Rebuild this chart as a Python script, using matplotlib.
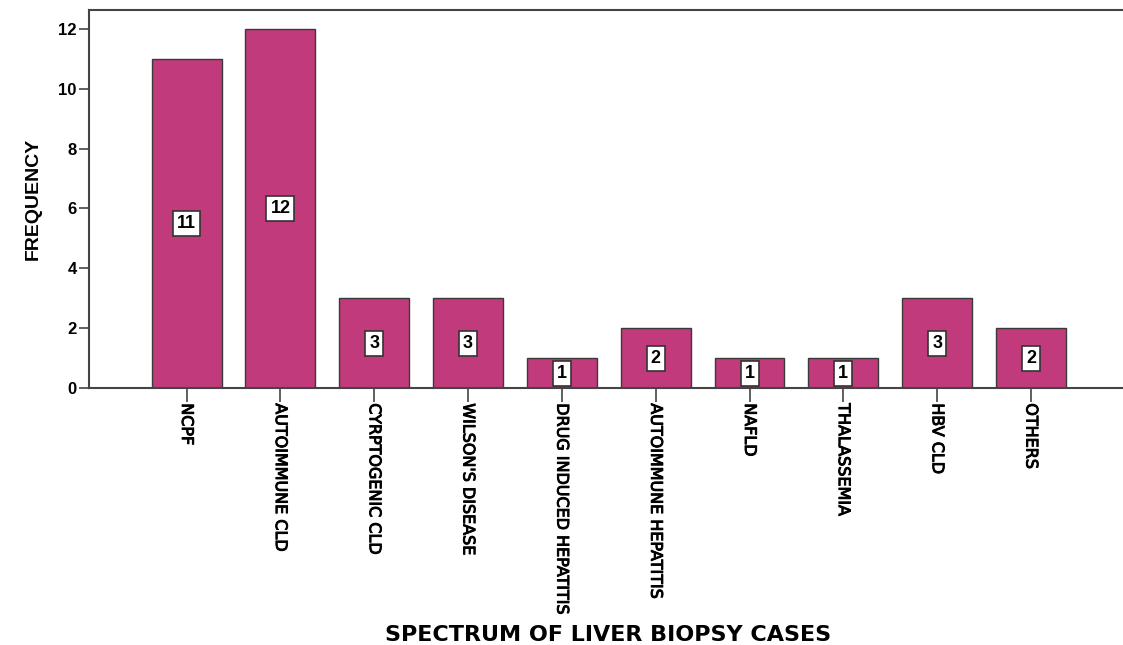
import matplotlib
matplotlib.use("Agg")
import matplotlib.pyplot as plt
import matplotlib.patheffects as pe
import numpy as np
from matplotlib import font_manager

categories = ["NCPF", "AUTOIMMUNE CLD", "CYRPTOGENIC CLD", "WILSON'S DISEASE",
              "DRUG INDUCED HEPATITIS", "AUTOIMMUNE HEPATITIS", "NAFLD",
              "THALASSEMIA", "HBV CLD", "OTHERS"]
frequency = [11, 12, 3, 3, 1, 2, 1, 1, 3, 2]
yticks = [0, 2, 4, 6, 8, 10, 12]

names = {f.name for f in font_manager.fontManager.ttflist}
narrow = "Liberation Sans Narrow" if "Liberation Sans Narrow" in names else "DejaVu Sans Condensed"

fig = plt.figure(figsize=(11.23, 6.45), dpi=100)
ax = fig.add_axes([89/1123, 1-388/645, 1-89/1123 + 0.01, (388-10)/645])

x = np.arange(len(categories))
ax.bar(x, frequency, width=0.745, color="#C13B7C", edgecolor="#3a3a3a", linewidth=1.0, zorder=2)

for xi, v in zip(x, frequency):
    ax.text(xi, v/2, str(v), ha="center", va="center", fontsize=13, fontweight="bold",
            family="Liberation Sans",
            bbox=dict(boxstyle="square,pad=0.22", facecolor="white", edgecolor="#333333", linewidth=1.2),
            zorder=3)

ax.set_xlim(-1.04, 10.1)
ax.set_ylim(0, 12.63)
ax.set_yticks(yticks)
ax.set_yticklabels([str(t) for t in yticks], fontsize=12, fontweight="bold", family="Liberation Sans")
ax.set_xticks(x)
ax.set_xticklabels(categories, rotation=270, fontsize=11.5, family=narrow,
                   va="top", ha="center")
for lab in ax.get_xticklabels():
    lab.set_path_effects([pe.withStroke(linewidth=0.7, foreground="black")])

for s in ["right"]:
    ax.spines[s].set_visible(False)
for s in ["left", "bottom", "top"]:
    ax.spines[s].set_color("#444444")
    ax.spines[s].set_linewidth(1.5)
ax.tick_params(axis="y", direction="out", length=7, width=1.2, color="#444444", pad=2)
ax.tick_params(axis="x", direction="out", length=10, width=1.2, color="#444444", pad=1)

ax.set_ylabel("FREQUENCY", fontsize=14, fontweight="bold", family="Liberation Sans", labelpad=12)
fig.text(608/1123, 1-635/645, "SPECTRUM OF LIVER BIOPSY CASES", ha="center", va="center",
         fontsize=16, fontweight="bold", family="DejaVu Sans")

fig.savefig("out.png", dpi=100)
